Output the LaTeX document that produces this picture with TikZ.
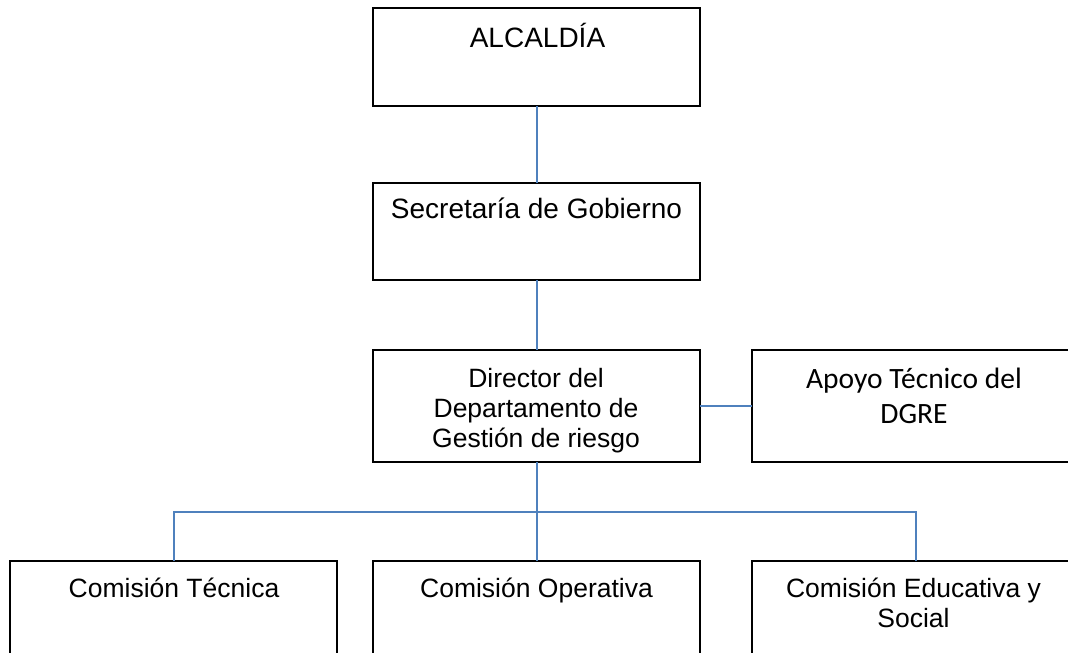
\documentclass[tikz,border=0pt]{standalone}
\usepackage{fontspec}
\setmainfont{Liberation Sans}
\newfontfamily\calib{Carlito}
\usetikzlibrary{calc}
\definecolor{linkblue}{RGB}{79,129,189}
\tikzset{
  orgbox/.style={draw=black, line width=2pt, minimum width=327pt, inner sep=0pt, outer sep=0pt},
  link/.style={draw=linkblue, line width=2pt},
  bigtxt/.style={anchor=base, align=center, inner sep=0pt, font=\fontsize{28}{32}\selectfont},
  midtxt/.style={anchor=base, align=center, inner sep=0pt, font=\fontsize{26.5}{30}\selectfont},
  caltxt/.style={anchor=base, align=center, inner sep=0pt, font=\calib\fontsize{29.5}{35}\selectfont},
}
\begin{document}
\begin{tikzpicture}[x=1pt,y=-1pt]
\useasboundingbox (0,0) rectangle (1068,653);
\clip (0,0) rectangle (1068,653);
\fill[white] (0,0) rectangle (1068,653);
% boxes
\node[orgbox, minimum height=98pt] (alc) at (536.5,57) {};
\node[orgbox, minimum height=97pt] (sec) at (536.5,231.5) {};
\node[orgbox, minimum height=112pt] (dir) at (536.5,406) {};
\node[orgbox, minimum height=112pt] (apo) at (915.5,406) {};
\node[orgbox, minimum height=100pt] (ct) at (173.5,611) {};
\node[orgbox, minimum height=100pt] (co) at (536.5,611) {};
\node[orgbox, minimum height=100pt] (ce) at (915.5,611) {};
% texts (base anchor = baseline of last line)
\node[bigtxt] (talc) at (537.5,47) {ALCALDÍA};
\node[bigtxt] (tsec) at (536.5,218) {Secretaría de Gobierno};
\node[midtxt] (tdir) at (536,447) {Director del\\Departamento de\\Gestión de riesgo};
\node[caltxt] (tapo) at (914,423) {Apoyo Técnico del\\DGRE};
\node[midtxt] (tct) at (174,597) {Comisión Técnica};
\node[midtxt] (tco) at (536.5,597) {Comisión Operativa};
\node[midtxt] (tce) at (913.5,627) {Comisión Educativa y\\Social};
% connectors
\coordinate (bus) at (536.5,512);
\draw[link] (alc.south) -- (sec.north);
\draw[link] (sec.south) -- (dir.north);
\draw[link] (dir.east) -- (apo.west);
\draw[link] (dir.south) -- (bus);
\draw[link] (ct.north) |- (bus) -| (ce.north);
\draw[link] (bus) -- (co.north);
\end{tikzpicture}
\end{document}
